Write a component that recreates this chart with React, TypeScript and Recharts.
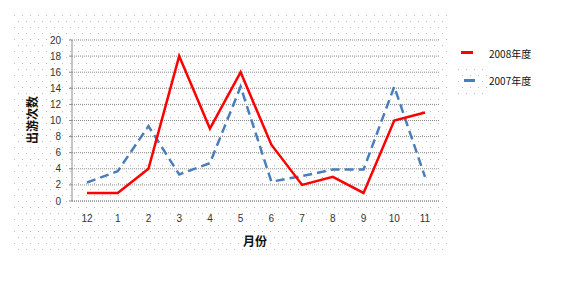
import React from "react";
import { CartesianGrid, Line, LineChart, XAxis, YAxis } from "recharts";

const months = ["12", "1", "2", "3", "4", "5", "6", "7", "8", "9", "10", "11"];
const trips2008 = [1, 1, 4, 18, 9, 16, 7, 2, 3, 1, 10, 11];
const trips2007 = [2.3, 3.7, 9.3, 3.3, 4.7, 14.2, 2.4, 3.1, 3.9, 3.9, 14.2, 3.0];
const yTicks = [0, 2, 4, 6, 8, 10, 12, 14, 16, 18, 20];

const RED = "#ff0000";
const BLUE = "#4a7ebb";
const CJK = '"Noto Sans CJK SC", "Liberation Sans", sans-serif';

const data = months.map((m, i) => ({
  month: m,
  y2008: trips2008[i],
  y2007: trips2007[i],
}));

const tickStyle = { fontSize: 10, fill: "#333", fontFamily: '"Liberation Sans", sans-serif' };

export default function App() {
  return (
    <div style={{ position: "absolute", left: 0, top: 0, width: 577, height: 281, background: "#fff" }}>
      <svg width={577} height={281} style={{ position: "absolute", left: 0, top: 0 }}>
        <defs>
          <pattern id="dots" x={14} y={15} width={8} height={12} patternUnits="userSpaceOnUse">
            <rect x={0} y={0} width={1} height={1} fill="#bdbdbd" />
            <rect x={4} y={6} width={1} height={1} fill="#bdbdbd" />
          </pattern>
        </defs>
        <rect x={14} y={15} width={434} height={236} fill="url(#dots)" />
        <rect x={455} y={66} width={32} height={30} fill="url(#dots)" />
      </svg>
      <div style={{ position: "absolute", left: 0, top: 0 }}>
        <LineChart width={577} height={281} data={data} margin={{ top: 40, right: 137, bottom: 50, left: 0 }}>
          <CartesianGrid vertical={false} stroke="#8c8c8c" strokeDasharray="1 1" />
          <XAxis
            dataKey="month"
            height={30}
            tick={tickStyle}
            tickLine={false}
            axisLine={{ stroke: "#8c8c8c", strokeDasharray: "1 1" }}
            padding={{ left: 15, right: 15 }}
            tickMargin={8}
            interval={0}
          />
          <YAxis
            width={72}
            domain={[0, 20]}
            ticks={yTicks}
            tick={tickStyle}
            tickSize={3}
            tickMargin={8}
            tickLine={{ stroke: "#8c8c8c" }}
            axisLine={{ stroke: "#8c8c8c" }}
            interval={0}
          />
          <Line
            type="linear"
            dataKey="y2007"
            stroke={BLUE}
            strokeWidth={2.5}
            strokeDasharray="9 5"
            dot={false}
            isAnimationActive={false}
          />
          <Line
            type="linear"
            dataKey="y2008"
            stroke={RED}
            strokeWidth={2.5}
            dot={false}
            isAnimationActive={false}
          />
        </LineChart>
      </div>

      <div
        style={{
          position: "absolute",
          left: 31,
          top: 120,
          transform: "translate(-50%, -50%) rotate(-90deg)",
          fontFamily: CJK,
          fontWeight: "bold",
          fontSize: 12,
          whiteSpace: "nowrap",
          color: "#111",
        }}
      >
        出游次数
      </div>
      <div
        style={{
          position: "absolute",
          left: 255,
          top: 240,
          transform: "translate(-50%, -50%)",
          fontFamily: CJK,
          fontWeight: "bold",
          fontSize: 12,
          whiteSpace: "nowrap",
          color: "#111",
        }}
      >
        月份
      </div>

      <div style={{ position: "absolute", left: 461, top: 51, width: 12, height: 3, background: RED }} />
      <div style={{ position: "absolute", left: 489, top: 53, transform: "translateY(-50%)", fontFamily: CJK, fontSize: 10, color: "#111", whiteSpace: "nowrap" }}>
        2008年度
      </div>
      <div style={{ position: "absolute", left: 464, top: 79, width: 11, height: 3, background: BLUE }} />
      <div style={{ position: "absolute", left: 489, top: 80, transform: "translateY(-50%)", fontFamily: CJK, fontSize: 10, color: "#111", whiteSpace: "nowrap" }}>
        2007年度
      </div>
    </div>
  );
}
